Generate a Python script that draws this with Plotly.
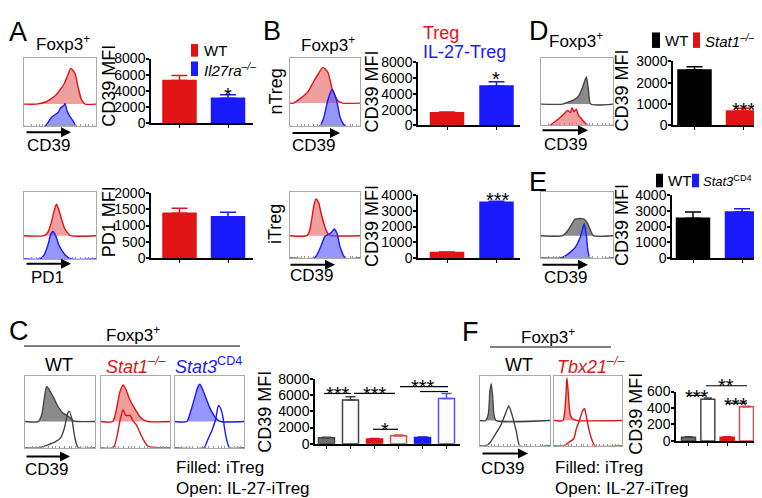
import math
import plotly.graph_objects as go

W, H = 762, 498
FONT = "Liberation Sans, Arial, sans-serif"

# ------------------------------------------------------------------ data
# Bar charts: mean MFI and upward error (SEM)
a_groups = ["WT", "Il27ra-/-"]
a_cd39_mfi = [5300, 3100]
a_cd39_err = [600, 450]
a_pd1_mfi = [1380, 1270]
a_pd1_err = [150, 140]

b_groups = ["Treg", "IL-27-Treg"]
b_ntreg_mfi = [1600, 5000]
b_ntreg_err = [100, 550]
b_itreg_mfi = [350, 3550]
b_itreg_err = [30, 50]

d_groups = ["WT", "Stat1-/-"]
d_mfi = [2600, 680]
d_err = [150, 120]

e_groups = ["WT", "Stat3CD4"]
e_mfi = [2520, 2930]
e_err = [400, 200]

c_groups = ["WT iTreg", "WT IL-27-iTreg", "Stat1 iTreg", "Stat1 IL-27-iTreg",
            "Stat3 iTreg", "Stat3 IL-27-iTreg"]
c_mfi = [750, 5400, 600, 980, 780, 5600]
c_err = [60, 400, 40, 100, 60, 600]

f_groups = ["WT iTreg", "WT IL-27-iTreg", "Tbx21 iTreg", "Tbx21 IL-27-iTreg"]
f_mfi = [45, 505, 45, 415]
f_err = [5, 15, 5, 5]

# Histogram curves: x = position along CD39/PD1 axis (fraction), h = height (fraction of box)
a_cd39_wt_x = [0, 0.17, 0.3, 0.38, 0.45, 0.51, 0.56, 0.6, 0.65, 0.71, 0.75, 0.8, 0.85, 1]
a_cd39_wt_h = [0, 0, 0.03, 0.08, 0.14, 0.22, 0.3, 0.4, 0.52, 0.44, 0.25, 0.06, 0, 0]
a_cd39_ko_x = [0, 0.29, 0.38, 0.47, 0.51, 0.55, 0.57, 0.6, 0.64, 0.68, 0.73, 1]
a_cd39_ko_h = [0, 0, 0.13, 0.2, 0.27, 0.3, 0.33, 0.22, 0.14, 0.08, 0, 0]

a_pd1_wt_x = [0, 0.28, 0.33, 0.38, 0.42, 0.45, 0.48, 0.52, 0.56, 0.6, 0.65, 1]
a_pd1_wt_h = [0, 0, 0.05, 0.2, 0.38, 0.47, 0.4, 0.25, 0.12, 0.05, 0, 0]
a_pd1_ko_x = [0, 0.22, 0.28, 0.33, 0.37, 0.4, 0.44, 0.48, 0.53, 0.58, 0.65, 1]
a_pd1_ko_h = [0, 0, 0.06, 0.2, 0.36, 0.41, 0.35, 0.22, 0.12, 0.05, 0, 0]

b_ntreg_treg_x = [0, 0.05, 0.11, 0.19, 0.26, 0.33, 0.4, 0.47, 0.54, 0.61, 0.69, 0.75, 1]
b_ntreg_treg_h = [0, 0, 0.04, 0.1, 0.17, 0.3, 0.42, 0.52, 0.45, 0.18, 0.03, 0, 0]
b_ntreg_il27_x = [0, 0.42, 0.48, 0.54, 0.6, 0.66, 0.72, 0.79, 1]
b_ntreg_il27_h = [0, 0, 0.12, 0.38, 0.54, 0.4, 0.12, 0, 0]

b_itreg_treg_x = [0, 0.24, 0.28, 0.31, 0.34, 0.37, 0.41, 0.44, 0.48, 0.51, 0.55, 0.6, 1]
b_itreg_treg_h = [0, 0, 0.08, 0.25, 0.45, 0.56, 0.5, 0.36, 0.2, 0.1, 0.02, 0, 0]
b_itreg_il27_x = [0, 0.35, 0.4, 0.45, 0.5, 0.55, 0.6, 0.63, 0.67, 0.72, 0.79, 1]
b_itreg_il27_h = [0, 0, 0.08, 0.2, 0.33, 0.36, 0.4, 0.44, 0.38, 0.15, 0, 0]

d_wt_x = [0, 0.3, 0.38, 0.45, 0.51, 0.56, 0.6, 0.63, 0.66, 0.69, 1]
d_wt_h = [0, 0, 0.03, 0.06, 0.1, 0.2, 0.32, 0.4, 0.2, 0, 0]
d_ko_x = [0, 0.12, 0.2, 0.27, 0.33, 0.37, 0.41, 0.43, 0.46, 0.49, 0.52, 0.56, 0.6, 0.65, 1]
d_ko_h = [0, 0, 0.06, 0.12, 0.18, 0.22, 0.19, 0.26, 0.2, 0.24, 0.15, 0.1, 0.05, 0, 0]

e_wt_x = [0, 0.3, 0.36, 0.42, 0.47, 0.52, 0.56, 0.6, 0.64, 0.68, 0.73, 1]
e_wt_h = [0, 0, 0.06, 0.16, 0.25, 0.26, 0.26, 0.25, 0.2, 0.1, 0, 0]
e_ko_x = [0, 0.27, 0.35, 0.42, 0.48, 0.54, 0.58, 0.6, 0.63, 0.65, 0.68, 1]
e_ko_h = [0, 0, 0.04, 0.1, 0.17, 0.3, 0.45, 0.52, 0.35, 0.12, 0, 0]

c_wt_itreg_x = [0, 0.19, 0.24, 0.28, 0.31, 0.36, 0.41, 0.47, 0.54, 0.61, 0.69, 0.75, 1]
c_wt_itreg_h = [0, 0, 0.1, 0.35, 0.49, 0.42, 0.33, 0.21, 0.12, 0.08, 0.01, 0, 0]
c_wt_il27_x = [0, 0.21, 0.33, 0.43, 0.51, 0.57, 0.6, 0.63, 0.67, 0.71, 0.76, 1]
c_wt_il27_h = [0, 0, 0.04, 0.08, 0.14, 0.3, 0.45, 0.51, 0.4, 0.15, 0, 0]
c_s1_itreg_x = [0, 0.17, 0.22, 0.27, 0.32, 0.36, 0.42, 0.49, 0.58, 0.68, 1]
c_s1_itreg_h = [0, 0, 0.15, 0.4, 0.51, 0.45, 0.3, 0.18, 0.05, 0, 0]
c_s1_il27_x = [0, 0.18, 0.23, 0.28, 0.32, 0.36, 0.42, 0.46, 0.51, 0.56, 0.61, 0.68, 1]
c_s1_il27_h = [0, 0, 0.15, 0.4, 0.53, 0.45, 0.45, 0.38, 0.32, 0.22, 0.12, 0.02, 0]
c_s3_itreg_x = [0, 0.17, 0.23, 0.29, 0.33, 0.36, 0.4, 0.44, 0.51, 0.59, 0.66, 1]
c_s3_itreg_h = [0, 0, 0.15, 0.35, 0.48, 0.52, 0.45, 0.35, 0.18, 0.05, 0, 0]
c_s3_il27_x = [0, 0.42, 0.47, 0.54, 0.59, 0.63, 0.66, 0.69, 0.73, 0.79, 1]
c_s3_il27_h = [0, 0, 0.1, 0.25, 0.4, 0.59, 0.55, 0.45, 0.2, 0, 0]

f_wt_itreg_x = [0, 0.08, 0.12, 0.14, 0.16, 0.18, 0.2, 0.23, 1]
f_wt_itreg_h = [0, 0, 0.1, 0.4, 0.53, 0.35, 0.08, 0, 0]
f_wt_il27_x = [0, 0.07, 0.14, 0.21, 0.3, 0.36, 0.41, 0.44, 0.47, 0.52, 0.57, 1]
f_wt_il27_h = [0, 0, 0.04, 0.15, 0.3, 0.45, 0.57, 0.5, 0.4, 0.2, 0, 0]
f_tbx_itreg_x = [0, 0.13, 0.16, 0.18, 0.19, 0.21, 0.24, 0.28, 0.35, 1]
f_tbx_itreg_h = [0, 0, 0.15, 0.45, 0.61, 0.4, 0.08, 0.02, 0, 0]
f_tbx_il27_x = [0, 0.15, 0.22, 0.29, 0.33, 0.37, 0.42, 0.45, 0.47, 0.51, 0.56, 0.6, 1]
f_tbx_il27_h = [0, 0, 0.05, 0.1, 0.25, 0.35, 0.5, 0.53, 0.45, 0.25, 0.08, 0, 0]

# ------------------------------------------------------------------ style
RED = "#e01414"
RED_OPEN = "#e04848"
RED_FILL = "rgba(228,80,80,0.55)"
BLUE = "#1a1aff"
BLUE_OPEN = "#5050ff"
BLUE_FILL = "rgba(80,80,255,0.6)"
GREY = "#6e6e6e"
GREY_LINE = "#444444"
GREY_FILL = "rgba(100,100,100,0.75)"
BLACK = "#000000"
BOXC = "#aaaaaa"


def px(x):
    return x / W


def py(y):
    return 1 - y / H


fig = go.Figure()
layout = {}
annotations = []
shapes = []
counter = [0]


def new_axes():
    counter[0] += 1
    n = counter[0]
    return "" if n == 1 else str(n)


HIST_TICKS = [s + 0.23 * math.log10(k) for s in (0.1, 0.33, 0.56, 0.79)
              for k in (1, 2, 3, 5) if s + 0.23 * math.log10(k) < 0.99]


def hist_box(box, upper, ucol, ufill, lower, lcol, lfill):
    x0, x1, yt, yb, ybase = box
    s = new_axes()
    base = (yb - ybase) / (yb - yt)
    layout["xaxis" + s] = dict(domain=[px(x0), px(x1)], range=[0, 1], anchor="y" + s,
                               showline=True, mirror=True, linecolor=BOXC, linewidth=1,
                               showgrid=False, zeroline=False, ticks="inside", ticklen=2,
                               tickcolor="#999", tickvals=HIST_TICKS, showticklabels=False)
    layout["yaxis" + s] = dict(domain=[py(yb), py(yt)], range=[0, 1], anchor="x" + s,
                               showline=True, mirror=True, linecolor=BOXC, linewidth=1,
                               showgrid=False, zeroline=False, showticklabels=False, ticks="")
    ux, uh = upper
    fig.add_trace(go.Scatter(x=ux, y=[base + h for h in uh], xaxis="x" + s, yaxis="y" + s,
                             mode="lines", line=dict(color=ucol, width=1.4, shape="spline", smoothing=0.6),
                             fill="toself", fillcolor=ufill, hoverinfo="skip"))
    lx, lh = lower
    fig.add_trace(go.Scatter(x=lx, y=lh, xaxis="x" + s, yaxis="y" + s, mode="lines",
                             line=dict(color=lcol, width=1.4, shape="spline", smoothing=0.6),
                             fill="toself" if lfill else "none", fillcolor=lfill, hoverinfo="skip"))


def bar_chart(x0, x1, ybot, ytop, c0, pitch, bw, ymax, dtick, values, errs, fills, lines, capw):
    s = new_axes()
    k = len(values)
    layout["xaxis" + s] = dict(domain=[px(x0), px(x1)], range=[(x0 - c0) / pitch, (x1 - c0) / pitch],
                               anchor="y" + s, showline=True, linecolor=BLACK, linewidth=1.5,
                               ticks="outside", ticklen=3, tickwidth=1, tickcolor=BLACK,
                               tickvals=list(range(k)), showticklabels=False, showgrid=False,
                               zeroline=False)
    layout["yaxis" + s] = dict(domain=[py(ybot), py(ytop)], range=[0, ymax], dtick=dtick, tick0=0,
                               anchor="x" + s, showline=True, linecolor=BLACK, linewidth=1.5,
                               ticks="outside", ticklen=3, tickwidth=1.5, tickcolor=BLACK,
                               ticklabelstandoff=-2,
                               tickfont=dict(size=14, color=BLACK, family=FONT),
                               showgrid=False, zeroline=False)
    for i in range(k):
        fig.add_trace(go.Bar(x=[i], y=[values[i]], width=[bw / pitch], xaxis="x" + s, yaxis="y" + s,
                             marker=dict(color=fills[i], line=dict(color=lines[i], width=1.5)),
                             error_y=dict(type="data", array=[errs[i]], arrayminus=[0], symmetric=False,
                                          color=lines[i], thickness=1.5, width=capw),
                             hoverinfo="skip"))


def txt(x, y, s, size=17, color=BLACK, xanchor="center", angle=0):
    annotations.append(dict(x=px(x), y=py(y), xref="paper", yref="paper", text=s, showarrow=False,
                            font=dict(family=FONT, size=size, color=color), xanchor=xanchor,
                            yanchor="middle", textangle=angle))


def star(x, y, s, size=20):
    # y is the glyph centre; asterisks sit high in the text box
    txt(x, y + 0.28 * size, s, size=size)


def arrow(xs, xe, y):
    annotations.append(dict(x=px(xe), y=py(y), xref="paper", yref="paper", text="", showarrow=True,
                            ax=-(xe - xs), ay=0, arrowhead=2, arrowsize=1, arrowwidth=2,
                            arrowcolor=BLACK))


def hline(xa, xb, y, w=1.2):
    shapes.append(dict(type="line", xref="paper", yref="paper", x0=px(xa), x1=px(xb), y0=py(y), y1=py(y),
                       line=dict(color=BLACK, width=w)))


def swatch(xa, xb, ya, yb, color):
    shapes.append(dict(type="rect", xref="paper", yref="paper", x0=px(xa), x1=px(xb), y0=py(yb), y1=py(ya),
                       fillcolor=color, line=dict(width=0)))


# ------------------------------------------------------------------ histograms
hist_box((16, 88, 43, 114, 91), (a_cd39_wt_x, a_cd39_wt_h), RED, RED_FILL,
         (a_cd39_ko_x, a_cd39_ko_h), BLUE, BLUE_FILL)
hist_box((16, 88, 182, 251, 227), (a_pd1_wt_x, a_pd1_wt_h), RED, RED_FILL,
         (a_pd1_ko_x, a_pd1_ko_h), BLUE, BLUE_FILL)
hist_box((282, 352, 43, 114, 90), (b_ntreg_treg_x, b_ntreg_treg_h), RED, RED_FILL,
         (b_ntreg_il27_x, b_ntreg_il27_h), BLUE, BLUE_FILL)
hist_box((282, 352, 182, 250, 227), (b_itreg_treg_x, b_itreg_treg_h), RED, RED_FILL,
         (b_itreg_il27_x, b_itreg_il27_h), BLUE, BLUE_FILL)
hist_box((533, 605, 43, 113, 91), (d_wt_x, d_wt_h), GREY_LINE, GREY_FILL,
         (d_ko_x, d_ko_h), RED, RED_FILL)
hist_box((533, 605, 182, 250, 227), (e_wt_x, e_wt_h), GREY_LINE, GREY_FILL,
         (e_ko_x, e_ko_h), BLUE, BLUE_FILL)
hist_box((17, 87, 372, 446, 419), (c_wt_itreg_x, c_wt_itreg_h), GREY_LINE, GREY_FILL,
         (c_wt_il27_x, c_wt_il27_h), GREY_LINE, None)
hist_box((93, 162, 372, 446, 419), (c_s1_itreg_x, c_s1_itreg_h), RED, RED_FILL,
         (c_s1_il27_x, c_s1_il27_h), RED, None)
hist_box((167, 236, 372, 446, 419), (c_s3_itreg_x, c_s3_itreg_h), BLUE, BLUE_FILL,
         (c_s3_il27_x, c_s3_il27_h), BLUE, None)
hist_box((472, 542, 372, 444, 418), (f_wt_itreg_x, f_wt_itreg_h), GREY_LINE, GREY_FILL,
         (f_wt_il27_x, f_wt_il27_h), GREY_LINE, None)
hist_box((546, 614, 372, 444, 418), (f_tbx_itreg_x, f_tbx_itreg_h), RED, RED_FILL,
         (f_tbx_il27_x, f_tbx_il27_h), RED, None)

# ------------------------------------------------------------------ bar charts
bar_chart(143, 245, 111, 44, 171.5, 48.5, 33, 8000, 2000, a_cd39_mfi, a_cd39_err,
          [RED, BLUE], [RED, BLUE], 8)
bar_chart(143, 245, 250, 183, 171.5, 48.5, 33, 2000, 500, a_pd1_mfi, a_pd1_err,
          [RED, BLUE], [RED, BLUE], 8)
bar_chart(410, 512, 113, 48, 439, 49.5, 33, 8000, 2000, b_ntreg_mfi, b_ntreg_err,
          [RED, BLUE], [RED, BLUE], 8)
bar_chart(410, 512, 250, 185, 439, 49.5, 33, 4000, 1000, b_itreg_mfi, b_itreg_err,
          [RED, BLUE], [RED, BLUE], 8)
bar_chart(665, 760, 113, 47, 686.5, 48.5, 33, 3000, 1000, d_mfi, d_err,
          [BLACK, RED], [BLACK, RED], 8)
bar_chart(664, 759, 250, 185, 685, 49, 33, 4000, 1000, e_mfi, e_err,
          [BLACK, BLUE], [BLACK, BLUE], 8)
bar_chart(307, 452, 442, 375, 318.5, 24, 16, 8000, 2000, c_mfi, c_err,
          [GREY, "white", RED, "white", BLUE, "white"],
          [GREY_LINE, GREY_LINE, RED, RED_OPEN, BLUE, BLUE_OPEN], 5)
bar_chart(668, 750, 439, 388, 680.5, 19.33, 14, 600, 200, f_mfi, f_err,
          [GREY, "white", RED, "white"], [GREY_LINE, GREY_LINE, RED, RED_OPEN], 4)

# ------------------------------------------------------------------ text
for lab, x, y in (("A", 10, 17), ("B", 264, 16), ("D", 531, 15), ("E", 530, 171),
                  ("C", 11, 325), ("F", 463, 326)):
    txt(x, y, lab, size=27)

for x, y in ((55, 28), (320, 29), (568, 25), (125, 329), (540, 331)):
    txt(x, y, "Foxp3<sup>+</sup>", size=17)

# legends
swatch(183, 190, 29, 42, RED)
txt(194, 36, "WT", size=15, xanchor="left")
swatch(183, 190, 47, 62, BLUE)
txt(194, 55, "<i>Il27ra</i><sup><i>–/–</i></sup>", size=15, xanchor="left")

txt(413, 18, "Treg", size=18, color=RED, xanchor="left")
txt(413, 37, "IL-27-Treg", size=18, color=BLUE, xanchor="left")

swatch(644, 652, 17, 33, BLACK)
txt(655, 25, "WT", size=15, xanchor="left")
swatch(685, 692, 17, 33, RED)
txt(695, 25, "<i>Stat1</i><sup><i>–/–</i></sup>", size=15, xanchor="left")

swatch(648, 655, 163, 177, BLACK)
txt(658, 170, "WT", size=15, xanchor="left")
swatch(684, 691, 163, 177, BLUE)
txt(693, 170, "<i>Stat3</i><sup>CD4</sup>", size=13, xanchor="left")

# row labels
txt(268, 78, "nTreg", size=18, angle=-90)
txt(267, 215, "iTreg", size=18, angle=-90)

# C / F headers
hline(16, 232, 341, 1)
hline(482, 603, 342, 1)
txt(51, 361, "WT", size=18)
txt(128, 361, "<i>Stat1</i><sup><i>–/–</i></sup>", size=18, color=RED)
txt(201, 361, "<i>Stat3</i><sup>CD4</sup>", size=18, color=BLUE)
txt(511, 361, "WT", size=18)
txt(583, 361, "<i>Tbx21</i><sup><i>–/–</i></sup>", size=18, color=RED)

# arrows and axis labels under histograms
for xs, xe, y in ((17, 63, 120), (283, 332, 121), (533, 580, 118), (17, 63, 256),
                  (281, 327, 257), (533, 580, 257), (17, 62, 455), (473, 520, 452)):
    arrow(xs, xe, y)
for x, y, s in ((40, 134, "CD39"), (305, 134, "CD39"), (557, 133, "CD39"), (39, 270, "PD1"),
                (303, 268, "CD39"), (557, 270, "CD39"), (38, 469, "CD39"), (494, 468, "CD39")):
    txt(x, y, s, size=17)

txt(166, 466, "Filled: iTreg", size=17, xanchor="left")
txt(166, 488, "Open: IL-27-iTreg", size=17, xanchor="left")
txt(545, 466, "Filled: iTreg", size=17, xanchor="left")
txt(545, 488, "Open: IL-27-iTreg", size=17, xanchor="left")

# y titles
for x, y, s in ((101, 72, "CD39 MFI"), (101, 213, "PD1 MFI"), (364, 78, "CD39 MFI"),
                (364, 217, "CD39 MFI"), (614, 77, "CD39 MFI"), (614, 216, "CD39 MFI"),
                (257, 409, "CD39 MFI"), (628, 411, "CD39 MFI")):
    txt(x, y, s, size=18, angle=-90)

# significance
star(220, 76, "*")
star(488, 59, "*")
star(490, 184, "***")
star(736, 92, "***")

hline(316, 343, 390)
hline(346, 387, 390)
hline(365, 390, 427)
hline(392, 440, 383)
hline(412, 440, 388)
star(330, 385, "***")
star(367, 385, "***")
star(377, 422, "*")
star(415, 378, "***")

hline(680, 697, 392)
hline(698, 739, 382)
hline(718, 739, 400)
star(689, 388, "***")
star(718, 377, "**")
star(728, 396, "***")

layout.update(dict(width=W, height=H, margin=dict(l=0, r=0, t=0, b=0), showlegend=False,
                   paper_bgcolor="white", plot_bgcolor="white", barmode="overlay",
                   font=dict(family=FONT, color=BLACK), annotations=annotations, shapes=shapes))
fig.update_layout(**layout)
fig.write_html("out.html")
